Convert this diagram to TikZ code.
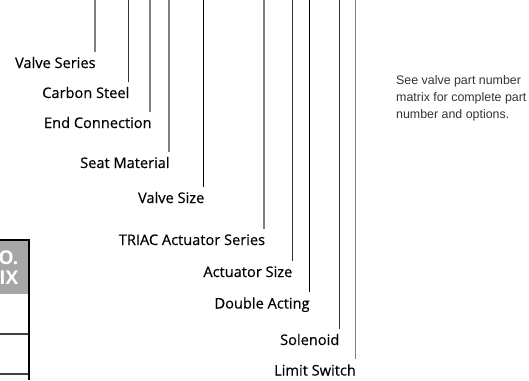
\documentclass[tikz,border=0pt]{standalone}
\usepackage{fontspec}
\setmainfont{Open Sans}
\newfontfamily\labfont[FakeBold=0.4]{Open Sans}
\newfontfamily\notefont{Liberation Sans}
\begin{document}
\begin{tikzpicture}[x=1pt,y=-1pt,
  lab/.style={anchor=base east,inner xsep=0pt,inner ysep=5pt,text height=11pt,text depth=3pt,font=\labfont\fontsize{14.6}{16}\selectfont,text=black},
  grayline/.style={draw=black!50,line width=1.3pt},
  darkline/.style={draw=black!80,line width=1pt},
  blackline/.style={draw=black,line width=0.8pt}]
\useasboundingbox (0,0) rectangle (529,380);
\clip (0,0) rectangle (529,380);
% table fragment
\definecolor{hdr}{HTML}{A6A6A6}
\fill[hdr] (0,240.5) rectangle (28.5,294);
\node[anchor=base east,inner sep=0pt,align=right,text=white,font=\bfseries\fontsize{19}{20}\selectfont] (hd) at (18.5,284) {NO.\\MATRIX};
\draw[black,line width=1.6pt] (0,240) -- (29.6,240);
\draw[black!75,line width=2pt] (0,334) -- (28,334);
\draw[black!75,line width=2pt] (0,374) -- (28,374);
\draw[black,line width=2.4pt] (28.8,239.2) -- (28.8,380);
% labels
\node[lab] (l1) at (95.8,68) {Valve Series};
\node[lab] (l2) at (129.5,98) {Carbon Steel};
\node[lab] (l3) at (151.8,128) {End Connection};
\node[lab] (l4) at (169.8,168) {Seat Material};
\node[lab] (l5) at (204.5,203) {Valve Size};
\node[lab] (l6) at (265.3,245) {TRIAC Actuator Series};
\node[lab] (l7) at (292.5,277) {Actuator Size};
\node[lab] (l8) at (309.8,308.5) {Double Acting};
\node[lab] (l9) at (339.5,345) {Solenoid};
\node[lab] (l10) at (356,375.5) {Limit Switch};
% top coordinates
\coordinate (t1) at (95,0);
\coordinate (t2) at (128.5,0);
\coordinate (t3) at (150,0);
\coordinate (t4) at (169,0);
\coordinate (t5) at (203.5,0);
\coordinate (t6) at (264,0);
\coordinate (t7) at (292,0);
\coordinate (t8) at (309.3,0);
\coordinate (t9) at (339,0);
\coordinate (t10) at (355.3,0);
\draw[grayline] (t1) -- (t1 |- l1.north);
\draw[darkline] (t2) -- (t2 |- l2.north);
\draw[grayline] (t3) -- (t3 |- l3.north);
\draw[grayline] (t4) -- (t4 |- l4.north);
\draw[blackline] (t5) -- (t5 |- l5.north);
\draw[grayline] (t6) -- (t6 |- l6.north);
\draw[darkline] (t7) -- (t7 |- l7.north);
\draw[blackline] (t8) -- (t8 |- l8.north);
\draw[darkline] (t9) -- (t9 |- l9.north);
\draw[grayline] (t10) -- (t10 |- l10.north);
% note
\node[anchor=north west,inner sep=0pt,align=left,text=black!80,font=\notefont\fontsize{12.4}{17}\selectfont] (note) at (396,75.5) {See valve part number\\matrix for complete part\\number and options.};
\end{tikzpicture}
\end{document}
